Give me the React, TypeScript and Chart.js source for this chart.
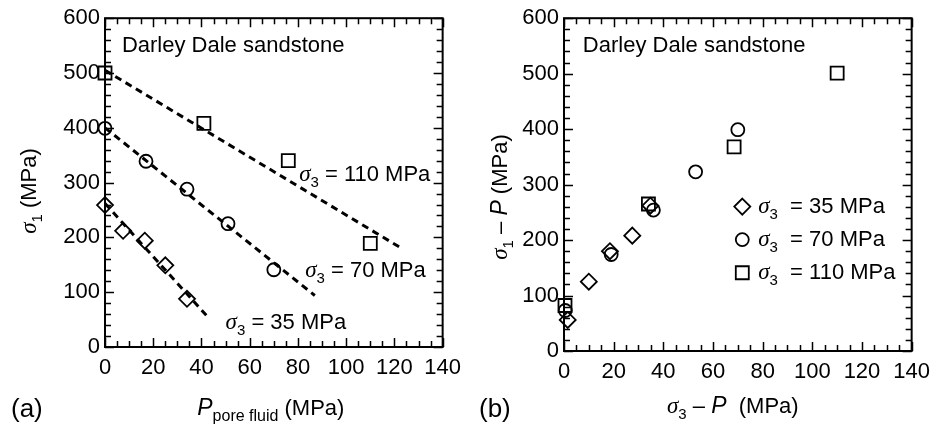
import React, { useEffect, useRef } from 'react';
import { Chart, registerables } from 'chart.js';

Chart.register(...registerables);

// ---------- Panel (a): sigma1 vs pore fluid pressure ----------
const poreP35 = [0, 7.5, 16.5, 25, 34];
const sigma1At35 = [259, 212, 194, 149, 88];
const poreP70 = [0, 17, 34, 51, 70];
const sigma1At70 = [399, 339, 288, 225, 141];
const poreP110 = [0, 41, 76, 110];
const sigma1At110 = [500, 408, 340, 189];
// dashed trend lines (end points)
const trend35X = [0, 42];
const trend35Y = [262, 58];
const trend70X = [0, 87];
const trend70Y = [400, 94];
const trend110X = [0, 123];
const trend110Y = [505, 180];

// ---------- Panel (b): sigma1 - P vs sigma3 - P ----------
const eff3At35 = [1.5, 10, 18.5, 27.5, 34.8];
const eff1At35 = [56, 125, 180, 208, 262];
const eff3At70 = [0.5, 19, 36, 53, 70];
const eff1At70 = [73, 174, 254, 323, 399];
const eff3At110 = [0.4, 34, 68.5, 110];
const eff1At110 = [82, 265, 368, 501];

// ---------- Axes ----------
const xMin = 0, xMax = 140, xMajor = 20, xMinor = 5;
const yMin = 0, yMax = 600, yMajor = 100, yMinor = 20;

const seriesLabels = ['35 MPa', '70 MPa', '110 MPa'];
const sampleName = 'Darley Dale sandstone';

const SANS = '"Liberation Sans", Arial, Helvetica, sans-serif';
const sans = (px: number, style = '') => `${style} ${px}px ${SANS}`.trim();
const serifI = (px: number) => `italic ${px}px "Liberation Serif", "DejaVu Serif", serif`;

type Seg = { t: string; f: string; dy?: number };

function richWidth(ctx: CanvasRenderingContext2D, segs: Seg[]) {
  let w = 0;
  for (const s of segs) {
    ctx.font = s.f;
    w += ctx.measureText(s.t).width;
  }
  return w;
}

function drawRich(ctx: CanvasRenderingContext2D, segs: Seg[], x: number, y: number, align: 'left' | 'center') {
  const w = richWidth(ctx, segs);
  let cx = align === 'center' ? x - w / 2 : x;
  ctx.textAlign = 'left';
  ctx.textBaseline = 'alphabetic';
  ctx.fillStyle = '#000';
  for (const s of segs) {
    ctx.font = s.f;
    ctx.fillText(s.t, cx, y + (s.dy || 0));
    cx += ctx.measureText(s.t).width;
  }
}

const sigmaSegs = (sub: string, rest: string): Seg[] => [
  { t: 'σ', f: serifI(23) },
  { t: sub, f: sans(15), dy: 6 },
  { t: rest, f: sans(22) },
];

function drawFrame(chart: any) {
  const { ctx, chartArea: a, scales } = chart;
  const xs = scales.x, ys = scales.y;
  ctx.save();
  ctx.strokeStyle = '#000';
  ctx.lineWidth = 1.5;
  ctx.beginPath();
  for (let v = xMin; v <= xMax + 1e-9; v += xMinor) {
    const px = Math.round(xs.getPixelForValue(v)) + 0.5;
    const L = v % xMajor === 0 ? 9 : 6;
    ctx.moveTo(px, a.bottom); ctx.lineTo(px, a.bottom - L);
    ctx.moveTo(px, a.top); ctx.lineTo(px, a.top + L);
  }
  for (let v = yMin; v <= yMax + 1e-9; v += yMinor) {
    const py = Math.round(ys.getPixelForValue(v)) + 0.5;
    const L = v % yMajor === 0 ? 9 : 6;
    ctx.moveTo(a.left, py); ctx.lineTo(a.left + L, py);
    ctx.moveTo(a.right, py); ctx.lineTo(a.right - L, py);
  }
  ctx.stroke();
  ctx.lineWidth = 2;
  ctx.strokeRect(a.left, a.top, a.right - a.left, a.bottom - a.top);
  ctx.restore();
}

function marker(ctx: CanvasRenderingContext2D, style: string, x: number, y: number) {
  ctx.save();
  ctx.strokeStyle = '#000';
  ctx.lineWidth = 1.8;
  ctx.beginPath();
  if (style === 'rectRot') {
    const r = 8;
    ctx.moveTo(x, y - r); ctx.lineTo(x + r, y); ctx.lineTo(x, y + r); ctx.lineTo(x - r, y); ctx.closePath();
  } else if (style === 'circle') {
    ctx.arc(x, y, 6.5, 0, Math.PI * 2);
  } else {
    ctx.rect(x - 6.5, y - 6.5, 13, 13);
  }
  ctx.stroke();
  ctx.restore();
}

const pts = (xs: number[], ys: number[]) => xs.map((x, i) => ({ x, y: ys[i] }));

const markerDs = (label: string, xs: number[], ys: number[], style: string, radius: number) => ({
  label,
  data: pts(xs, ys),
  pointStyle: style,
  pointRadius: radius,
  pointBorderWidth: 1.8,
  pointBorderColor: '#000',
  pointBackgroundColor: 'rgba(0,0,0,0)',
  borderColor: '#000',
  backgroundColor: 'rgba(0,0,0,0)',
  showLine: false,
  clip: false as const,
});

const trendDs = (xs: number[], ys: number[]) => ({
  label: 'trend',
  data: pts(xs, ys),
  showLine: true,
  borderColor: '#000',
  borderWidth: 3,
  borderDash: [7, 5],
  pointRadius: 0,
  fill: false,
  clip: false as const,
});

function baseOptions(yWidth: number, xHeight: number, padRight: number) {
  return {
    responsive: false,
    animation: false as const,
    events: [] as any[],
    layout: { padding: { top: 16, right: padRight, left: 0, bottom: 0 } },
    plugins: { legend: { display: false }, tooltip: { enabled: false } },
    scales: {
      x: {
        type: 'linear' as const,
        min: xMin,
        max: xMax,
        afterFit: (s: any) => { s.height = xHeight; },
        grid: { display: false, drawTicks: false },
        border: { display: false },
        ticks: { stepSize: xMajor, padding: 8, color: '#000', font: { family: SANS, size: 22 } },
      },
      y: {
        type: 'linear' as const,
        min: yMin,
        max: yMax,
        afterFit: (s: any) => { s.width = yWidth; },
        grid: { display: false, drawTicks: false },
        border: { display: false },
        ticks: { stepSize: yMajor, padding: 5, color: '#000', font: { family: SANS, size: 22 } },
      },
    },
  };
}

function PanelA() {
  const ref = useRef<HTMLCanvasElement>(null);
  useEffect(() => {
    const deco = {
      id: 'decoA',
      afterDatasetsDraw(chart: any) {
        drawFrame(chart);
        const { ctx, scales, chartArea: a } = chart;
        const X = (v: number) => scales.x.getPixelForValue(v);
        const Y = (v: number) => scales.y.getPixelForValue(v);
        ctx.save();
        drawRich(ctx, [{ t: sampleName, f: sans(22) }], X(7), Y(538), 'left');
        drawRich(ctx, sigmaSegs('3', ' = 110 MPa'), X(80.5), Y(303), 'left');
        drawRich(ctx, sigmaSegs('3', ' = 70 MPa'), X(83), Y(127), 'left');
        drawRich(ctx, sigmaSegs('3', ' = 35 MPa'), X(50), Y(32), 'left');
        // axis titles
        drawRich(ctx, [
          { t: 'P', f: sans(23, 'italic') },
          { t: 'pore fluid', f: sans(16), dy: 6 },
          { t: ' (MPa)', f: sans(22) },
        ], (a.left + a.right) / 2 - 3, 415, 'center');
        drawRich(ctx, [{ t: '(a)', f: sans(26) }], 11, 417, 'left');
        ctx.translate(36, 191);
        ctx.rotate(-Math.PI / 2);
        drawRich(ctx, [
          { t: 'σ', f: serifI(23) },
          { t: '1', f: sans(15), dy: 6 },
          { t: ' (MPa)', f: sans(22) },
        ], 0, 0, 'center');
        ctx.restore();
      },
    };
    const chart = new Chart(ref.current!, {
      type: 'scatter',
      data: {
        datasets: [
          markerDs(seriesLabels[0], poreP35, sigma1At35, 'rectRot', 8),
          markerDs(seriesLabels[1], poreP70, sigma1At70, 'circle', 6.5),
          markerDs(seriesLabels[2], poreP110, sigma1At110, 'rect', 9.2),
          trendDs(trend35X, trend35Y),
          trendDs(trend70X, trend70Y),
          trendDs(trend110X, trend110Y),
        ] as any,
      },
      options: baseOptions(105, 78, 22) as any,
      plugins: [deco],
    });
    return () => chart.destroy();
  }, []);
  return <canvas ref={ref} width={469} height={425} style={{ width: 469, height: 425, display: 'block' }} />;
}

function PanelB() {
  const ref = useRef<HTMLCanvasElement>(null);
  useEffect(() => {
    const deco = {
      id: 'decoB',
      afterDatasetsDraw(chart: any) {
        drawFrame(chart);
        const { ctx, scales, chartArea: a } = chart;
        const X = (v: number) => scales.x.getPixelForValue(v);
        const Y = (v: number) => scales.y.getPixelForValue(v);
        ctx.save();
        drawRich(ctx, [{ t: sampleName, f: sans(22) }], X(7.6), Y(539), 'left');
        // legend
        const styles = ['rectRot', 'circle', 'rect'];
        const rowY = [249.5, 190, 130.3];
        styles.forEach((st, i) => {
          const by = Y(rowY[i]);
          marker(ctx, st, X(71.8), by - 6);
          drawRich(ctx, sigmaSegs('3', '  = ' + seriesLabels[i]), X(78.2), by, 'left');
        });
        // axis titles
        drawRich(ctx, [
          { t: 'σ', f: serifI(23) },
          { t: '3', f: sans(15), dy: 6 },
          { t: ' – ', f: sans(22) },
          { t: 'P', f: sans(23, 'italic') },
          { t: '  (MPa)', f: sans(22) },
        ], (a.left + a.right) / 2 - 5, 413, 'center');
        drawRich(ctx, [{ t: '(b)', f: sans(26) }], 10, 417, 'left');
        ctx.translate(38, 197);
        ctx.rotate(-Math.PI / 2);
        drawRich(ctx, [
          { t: 'σ', f: serifI(23) },
          { t: '1', f: sans(15), dy: 6 },
          { t: ' – ', f: sans(22) },
          { t: 'P', f: sans(23, 'italic') },
          { t: ' (MPa)', f: sans(22) },
        ], 0, 0, 'center');
        ctx.restore();
      },
    };
    const chart = new Chart(ref.current!, {
      type: 'scatter',
      data: {
        datasets: [
          markerDs(seriesLabels[0], eff3At35, eff1At35, 'rectRot', 8),
          markerDs(seriesLabels[1], eff3At70, eff1At70, 'circle', 6.5),
          markerDs(seriesLabels[2], eff3At110, eff1At110, 'rect', 9.2),
        ] as any,
      },
      options: baseOptions(95, 74, 26) as any,
      plugins: [deco],
    });
    return () => chart.destroy();
  }, []);
  return <canvas ref={ref} width={469} height={425} style={{ width: 469, height: 425, display: 'block' }} />;
}

export default function App() {
  return (
    <div style={{ position: 'fixed', left: 0, top: 0, width: 938, height: 425, background: '#fff', display: 'flex' }}>
      <PanelA />
      <PanelB />
    </div>
  );
}
